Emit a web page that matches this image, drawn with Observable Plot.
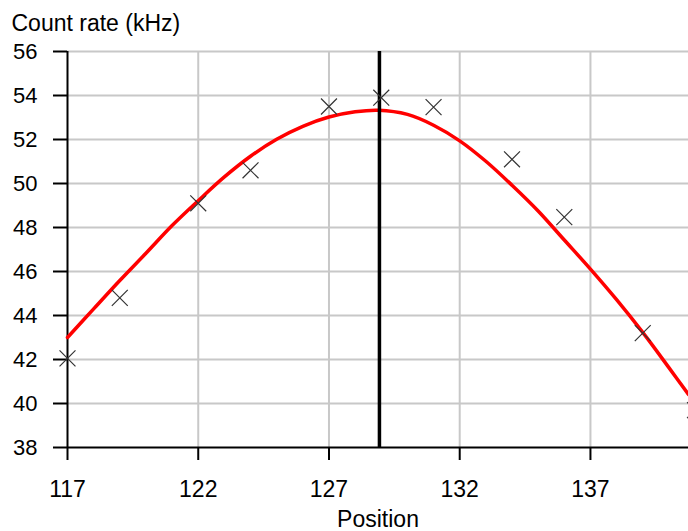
<!DOCTYPE html>
<html>
<head>
<meta charset="utf-8">
<script src="https://cdn.jsdelivr.net/npm/d3@7"></script>
<script src="https://cdn.jsdelivr.net/npm/@observablehq/plot@0.6"></script>
<style>
  html, body { margin: 0; padding: 0; background: #fff; overflow: hidden; }
</style>
</head>
<body>
<div id="chart"></div>
<script>
// Measured points (crosses)
const positions = [117, 119, 122, 124, 127, 129, 131, 134, 136, 139, 141];
const countRates = [42.05, 44.8, 49.1, 50.6, 53.5, 53.9, 53.47, 51.1, 48.47, 43.2, 39.7];

// Fitted curve
const fitPositions = [117, 118, 119, 120, 121, 122, 123, 124, 125, 126, 127, 128, 128.9, 130, 131, 132, 133, 134, 135, 136, 137, 138, 139, 140, 140.75];
const fitRates = [43.0, 44.3, 45.59, 46.83, 48.09, 49.22, 50.3, 51.24, 52.01, 52.6, 53.02, 53.26, 53.33, 53.14, 52.65, 51.94, 51.01, 49.92, 48.75, 47.43, 46.11, 44.72, 43.23, 41.63, 40.41];

// Peak marker
const peakPosition = [128.93];

// Axes
const xTicks = [117, 122, 127, 132, 137];
const yTicks = [38, 40, 42, 44, 46, 48, 50, 52, 54, 56];
const xDomain = [117, 140.75];
const yDomain = [38, 56];
const xLabel = "Position";
const yLabel = "Count rate (kHz)";

const points = positions.map((x, i) => ({x, y: countRates[i]}));
const fit = fitPositions.map((x, i) => ({x, y: fitRates[i]}));

const chart = Plot.plot({
  width: 688,
  height: 531,
  marginLeft: 67,
  marginRight: 0,
  marginTop: 51,
  marginBottom: 84,
  style: {
    fontFamily: "'Liberation Sans', Arial, sans-serif",
    fontSize: "23px",
    background: "#fff",
    color: "#000"
  },
  x: {domain: xDomain},
  y: {domain: yDomain},
  marks: [
    Plot.gridX(xTicks.slice(1), {stroke: "#c8c8c8", strokeOpacity: 1, strokeWidth: 2}),
    Plot.gridY(yTicks.slice(1), {stroke: "#c8c8c8", strokeOpacity: 1, strokeWidth: 2}),
    Plot.axisY(yTicks, {tickSize: 14, tickPadding: 16, strokeWidth: 2, label: null, fontSize: 22}),
    Plot.axisX(xTicks, {tickSize: 13, tickPadding: 20, strokeWidth: 2, label: null}),
    Plot.ruleX([xDomain[0]], {stroke: "#000", strokeWidth: 2}),
    Plot.ruleY([yDomain[0]], {stroke: "#000", strokeWidth: 2}),
    Plot.line(fit, {x: "x", y: "y", stroke: "#ff0000", strokeWidth: 3.5, curve: "catmull-rom"}),
    Plot.ruleX(peakPosition, {stroke: "#000", strokeWidth: 3.5}),
    Plot.dot(points, {x: "x", y: "y", symbol: "times", r: 7.3, stroke: "#333", strokeWidth: 1.2}),
    Plot.text([xLabel], {frameAnchor: "bottom", lineAnchor: "middle", dy: 72, fill: "#000"}),
    Plot.text([yLabel], {frameAnchor: "top-left", textAnchor: "start", lineAnchor: "middle", dx: -56, dy: -28, fill: "#000"})
  ]
});

document.getElementById("chart").appendChild(chart);
</script>
</body>
</html>
